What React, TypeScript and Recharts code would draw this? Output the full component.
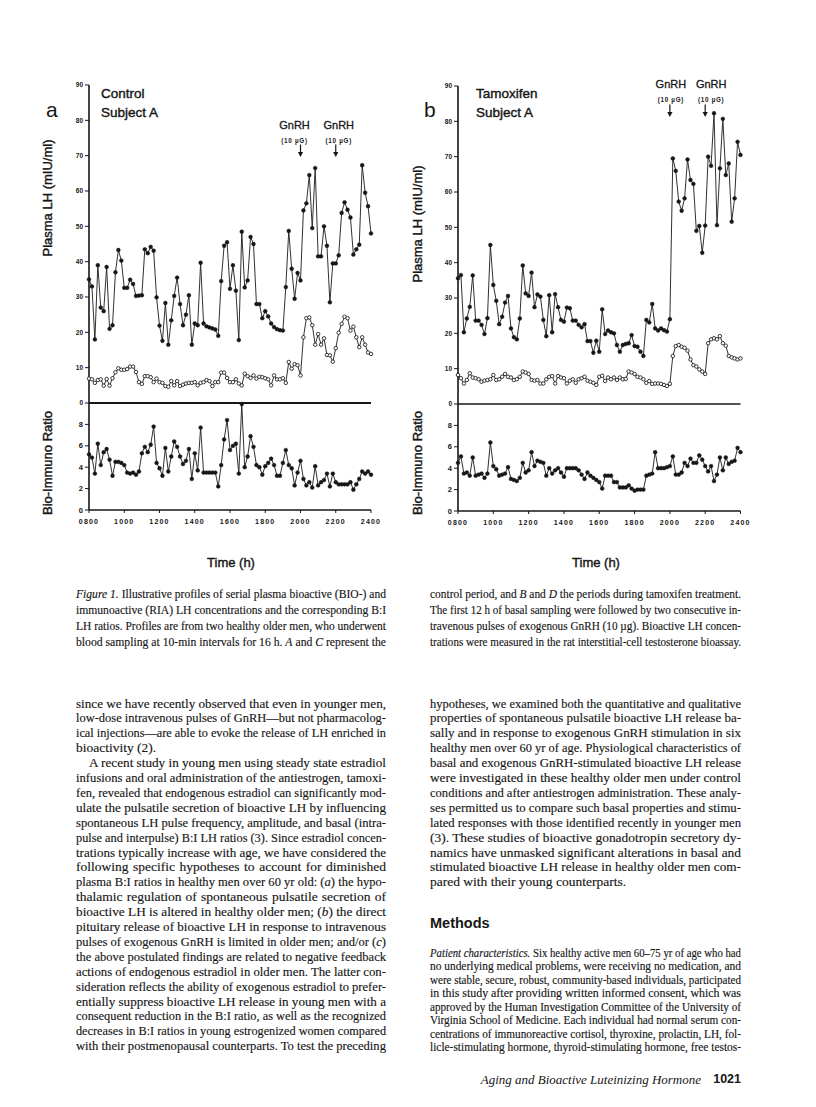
import React, { useLayoutEffect, useRef, useState } from 'react';
import { LineChart, Line, XAxis, YAxis, ReferenceLine, ReferenceDot } from 'recharts';

// ---------------- data ----------------
const timeTicks = [8, 10, 12, 14, 16, 18, 20, 22, 24];
const timeTickLabels = ['0800', '1000', '1200', '1400', '1600', '1800', '2000', '2200', '2400'];
const lhTicks = [0, 10, 20, 30, 40, 50, 60, 70, 80, 90];
const ratioTicks = [0, 2, 4, 6, 8];
const gnrhTimes = [20, 22];

// Panel a: control, subject A (10-min samples 0800-2400)
const controlBio = [
  35, 33, 18, 39, 27, 26, 38.5, 21, 22, 37,
  43.3, 40.3, 32.6, 32.6, 34.9, 33.7, 30.3, 30.4, 30.5, 43.5,
  42.4, 44.2, 43.1, 29.9, 21.9, 17.6, 28.3, 16.5, 23.4, 30.3,
  35.5, 28, 22, 25, 30.5, 16.5, 22.5, 22, 39.7, 22.5,
  21.7, 21.4, 21.1, 20.8, 19, 34.5, 44.5, 45.5, 32.3, 39,
  31.8, 17.8, 48.5, 32.7, 34.7, 47, 45, 28, 28, 24,
  26, 24.5, 22.5, 21.5, 20.9, 20.6, 20.5, 32.8, 48.7, 38,
  29.5, 36.8, 34.7, 54.5, 56.5, 64.5, 49.5, 66.5, 41.5, 41.5,
  50, 44.5, 28.5, 39.5, 39.5, 41.8, 53.8, 56.8, 54.7, 52.5,
  42, 43.5, 44.8, 67.3, 59.5, 55.7, 48,
];
const controlRia = [
  6.9, 6.7, 5.7, 6.5, 6.7, 4.9, 6.8, 4.9, 7.0, 8.7,
  9.8, 9.4, 9.4, 9.6, 10.3, 10.3, 8.8, 5.9, 5.4, 7.6,
  7.6, 7.3, 5.9, 6.9, 5.9, 5.7, 4.8, 4.6, 6.2, 5.0,
  6.2, 4.8, 5.2, 5.5, 5.7, 5.7, 5.9, 5.0, 5.7, 5.9,
  6.5, 6.2, 4.8, 5.9, 5.9, 8.6, 8.6, 7.1, 5.9, 5.9,
  6.7, 5.5, 5.0, 8.3, 7.6, 7.1, 7.8, 6.9, 7.4, 7.3,
  7.0, 6.7, 5.0, 7.8, 6.7, 6.7, 7.0, 5.7, 11.6, 9.7,
  11.0, 10.7, 7.8, 18.6, 24, 24.2, 22, 16.5, 19.5, 16.5,
  18.3, 13.6, 13.5, 11.7, 15.5, 19.9, 22.4, 24.4, 24, 20.5,
  21.6, 18.6, 15.8, 18.6, 16.5, 14.3, 13.9,
];
const controlRatio = [
  5.2, 4.9, 3.4, 6.2, 4.2, 5.4, 5.7, 4.7, 3.2, 4.5,
  4.5, 4.4, 4.2, 3.5, 3.4, 3.5, 3.3, 3.6, 5.3, 5.9,
  5.4, 6.1, 7.8, 4.4, 3.9, 3.2, 5.8, 3.6, 5.0, 6.4,
  5.9, 5.0, 4.3, 4.6, 5.7, 2.9, 5.3, 3.7, 7.7, 3.5,
  3.5, 3.5, 3.5, 3.5, 2.2, 4.2, 6.6, 8.4, 5.6, 6.0,
  6.2, 3.4, 9.9, 4.0, 5.0, 6.9, 5.9, 4.2, 4.0, 3.3,
  4.1, 4.4, 4.8, 4.2, 3.2, 3.2, 4.4, 5.6, 4.2, 3.9,
  2.3, 3.5, 4.6, 2.9, 2.3, 2.6, 2.1, 4.1, 2.3, 2.6,
  2.8, 3.4, 2.2, 3.4, 2.6, 2.4, 2.4, 2.4, 2.4, 2.6,
  1.9, 2.4, 2.9, 3.6, 3.4, 3.6, 3.3,
];

// Panel b: tamoxifen, subject A
const tamoxBio = [
  35.6, 36.5, 20.3, 24.2, 27.5, 36.4, 23.6, 23.6, 22.4, 19.8,
  24.3, 45, 33.7, 29.2, 22.6, 24.7, 28.7, 30.6, 21.4, 18.9,
  18.3, 24.2, 39.2, 31.3, 30.6, 37.2, 27.4, 31.0, 30.4, 23.8,
  19.2, 30.8, 20.3, 31.1, 27.4, 23.8, 23.3, 27.3, 27.1, 23.6,
  23.6, 22.4, 21.7, 22.6, 17.8, 17.8, 14.5, 17.9, 14.8, 26.8,
  19.8, 20.8, 20.3, 20.0, 16.7, 14.8, 16.7, 17, 17.2, 19.5,
  16.4, 16.2, 14.8, 13.6, 23.8, 23.1, 28.3, 21.4, 20.8, 21.4,
  20.9, 20.5, 24, 69.5, 66, 57.3, 54.7, 58.2, 69.2, 63.4,
  62.3, 49, 50.4, 42.8, 50.5, 70, 67.4, 82.3, 50.6, 66.7,
  80.7, 64.8, 68.1, 51.6, 58.2, 74.2, 70.5,
];
const tamoxRia = [
  8.2, 7.3, 5.8, 6.8, 8.7, 7.5, 7.3, 7.0, 6.3, 6.6,
  6.8, 7.0, 8.2, 6.8, 7.0, 7.7, 8.5, 7.7, 7.5, 6.8,
  7.0, 7.7, 9.2, 8.9, 8.5, 6.8, 6.6, 6.8, 5.8, 5.8,
  7.0, 7.7, 7.9, 5.8, 7.9, 7.5, 7.3, 5.8, 6.6, 7.0,
  6.0, 7.0, 7.3, 7.7, 6.6, 6.3, 6.0, 5.4, 7.7, 8.0,
  6.5, 7.5, 7.0, 7.5, 6.8, 7.5, 7.0, 7.1, 9.2, 8.9,
  8.5, 7.7, 7.5, 7.0, 6.0, 6.5, 5.7, 5.8, 5.8, 5.7,
  5.4, 5.1, 5.7, 13.6, 16.4, 16.7, 16.2, 15.9, 15.1, 12.6,
  11.0, 10.6, 9.8, 9.2, 8.5, 17.2, 18.3, 18.6, 18.3, 19.2,
  17.2, 16.5, 13.6, 13.2, 12.9, 12.6, 12.9,
];
const tamoxRatio = [
  4.5, 5.1, 3.5, 3.6, 3.3, 5.0, 3.3, 3.4, 3.5, 3.1,
  3.5, 6.4, 4.2, 3.9, 3.3, 3.4, 3.5, 4.1, 3.0, 2.9,
  2.8, 3.1, 4.5, 3.6, 3.8, 5.5, 4.2, 4.7, 4.6, 4.5,
  3.3, 4.0, 3.5, 3.8, 4.0, 3.6, 3.2, 4.0, 4.0, 4.0,
  4.0, 3.8, 3.4, 3.0, 3.6, 3.3, 3.1, 2.9, 2.7, 2.1,
  3.3, 3.3, 3.3, 2.7, 2.7, 2.2, 2.2, 2.2, 2.4, 2.1,
  1.9, 2.0, 2.0, 2.0, 3.3, 3.4, 3.5, 5.5, 4.0, 4.0,
  4.0, 4.1, 4.2, 5.1, 3.4, 3.4, 3.6, 4.5, 4.2, 4.9,
  4.5, 4.5, 5.2, 4.8, 4.2, 3.7, 4.2, 2.8, 3.4, 5.0,
  3.8, 5.0, 4.4, 4.6, 4.7, 5.9, 5.5,
];

// sampling clock (hours), one sample every 10 min from 0800
const sampleTimes = controlBio.map((_, i) => 8 + i / 6);

// ---------------- text ----------------
const captionLeft = [
  '_Figure 1._ Illustrative profiles of serial plasma bioactive (BIO-) and',
  'immunoactive (RIA) LH concentrations and the corresponding B:I',
  'LH ratios. Profiles are from two healthy older men, who underwent',
  'blood sampling at 10-min intervals for 16 h. _A_ and _C_ represent the',
];
const captionRight = [
  'control period, and _B_ and _D_ the periods during tamoxifen treatment.',
  'The first 12 h of basal sampling were followed by two consecutive in-',
  'travenous pulses of exogenous GnRH (10 µg). Bioactive LH concen-',
  'trations were measured in the rat interstitial-cell testosterone bioassay.',
];
const bodyLeft = [
  'since we have recently observed that even in younger men,',
  'low-dose intravenous pulses of GnRH—but not pharmacolog-',
  'ical injections—are able to evoke the release of LH enriched in',
  'bioactivity (2).',
  'A recent study in young men using steady state estradiol',
  'infusions and oral administration of the antiestrogen, tamoxi-',
  'fen, revealed that endogenous estradiol can significantly mod-',
  'ulate the pulsatile secretion of bioactive LH by influencing',
  'spontaneous LH pulse frequency, amplitude, and basal (intra-',
  'pulse and interpulse) B:I LH ratios (3). Since estradiol concen-',
  'trations typically increase with age, we have considered the',
  'following specific hypotheses to account for diminished',
  'plasma B:I ratios in healthy men over 60 yr old: (_a_) the hypo-',
  'thalamic regulation of spontaneous pulsatile secretion of',
  'bioactive LH is altered in healthy older men; (_b_) the direct',
  'pituitary release of bioactive LH in response to intravenous',
  'pulses of exogenous GnRH is limited in older men; and/or (_c_)',
  'the above postulated findings are related to negative feedback',
  'actions of endogenous estradiol in older men. The latter con-',
  'sideration reflects the ability of exogenous estradiol to prefer-',
  'entially suppress bioactive LH release in young men with a',
  'consequent reduction in the B:I ratio, as well as the recognized',
  'decreases in B:I ratios in young estrogenized women compared',
  'with their postmenopausal counterparts. To test the preceding',
];
const bodyRight = [
  'hypotheses, we examined both the quantitative and qualitative',
  'properties of spontaneous pulsatile bioactive LH release ba-',
  'sally and in response to exogenous GnRH stimulation in six',
  'healthy men over 60 yr of age. Physiological characteristics of',
  'basal and exogenous GnRH-stimulated bioactive LH release',
  'were investigated in these healthy older men under control',
  'conditions and after antiestrogen administration. These analy-',
  'ses permitted us to compare such basal properties and stimu-',
  'lated responses with those identified recently in younger men',
  '(3). These studies of bioactive gonadotropin secretory dy-',
  'namics have unmasked significant alterations in basal and',
  'stimulated bioactive LH release in healthy older men com-',
  'pared with their young counterparts.',
];
const patientLines = [
  '_Patient characteristics._ Six healthy active men 60–75 yr of age who had',
  'no underlying medical problems, were receiving no medication, and',
  'were stable, secure, robust, community-based individuals, participated',
  'in this study after providing written informed consent, which was',
  'approved by the Human Investigation Committee of the University of',
  'Virginia School of Medicine. Each individual had normal serum con-',
  'centrations of immunoreactive cortisol, thyroxine, prolactin, LH, fol-',
  'licle-stimulating hormone, thyroid-stimulating hormone, free testos-',
];

// ---------------- styles ----------------
const SANS = '"Liberation Sans", Arial, Helvetica, sans-serif';
const SERIF = '"Liberation Serif", "Times New Roman", serif';
const INK = '#161616';

function marked(s: string) {
  return s.split('_').map((seg, i) =>
    i % 2 ? <i key={i}>{seg}</i> : <React.Fragment key={i}>{seg}</React.Fragment>
  );
}

function JLine({ x, base, w, size, text, justify = true, family = SERIF }: any) {
  const ref = useRef<HTMLSpanElement>(null);
  const [adj, setAdj] = useState({ ws: 0, sx: 1 });
  useLayoutEffect(() => {
    const el = ref.current;
    if (!el) return;
    const natural = el.getBoundingClientRect().width;
    const spaces = ((el.textContent || '').match(/ /g) || []).length;
    if (natural > w) setAdj({ ws: 0, sx: w / natural });
    else if (justify && spaces > 0) setAdj({ ws: (w - natural) / spaces, sx: 1 });
  }, []);
  return (
    <div
      style={{
        position: 'absolute', left: x, top: base - 0.845 * size, whiteSpace: 'nowrap',
        fontSize: size, lineHeight: `${size}px`, fontFamily: family, color: INK,
        WebkitTextStroke: '0.15px #161616',
      }}
    >
      <span
        ref={ref}
        style={{ display: 'inline-block', wordSpacing: adj.ws, transform: `scaleX(${adj.sx})`, transformOrigin: '0 0' }}
      >
        {marked(text)}
      </span>
    </div>
  );
}

function Txt({ x, base, size, children, anchor = 'start', family = SANS, weight = 400, style = {} }: any) {
  const tx = anchor === 'middle' ? 'translateX(-50%)' : anchor === 'end' ? 'translateX(-100%)' : 'none';
  return (
    <div
      style={{
        position: 'absolute', left: x, top: base - 0.845 * size, fontSize: size, lineHeight: `${size}px`,
        fontFamily: family, fontWeight: weight, color: INK, whiteSpace: 'nowrap', transform: tx, ...style,
      }}
    >
      {children}
    </div>
  );
}

const chartLabelStyle = { WebkitTextStroke: '0.4px #161616' };

function VLabel({ cx, cy, size, children }: any) {
  return (
    <div
      style={{
        position: 'absolute', left: cx, top: cy, fontSize: size, lineHeight: `${size}px`, fontFamily: SANS,
        color: INK, whiteSpace: 'nowrap', transform: 'translate(-50%, -50%) rotate(-90deg)', ...chartLabelStyle,
      }}
    >
      {children}
    </div>
  );
}

function GnRHMark({ cx, cy, dx, g1, g2 }: any) {
  return (
    <g>
      <text x={cx + dx} y={cy - g1} textAnchor="middle" fontSize={11} fontFamily={SANS} fill={INK} stroke={INK} strokeWidth={0.3}>GnRH</text>
      <text x={cx + dx} y={cy - g2} textAnchor="middle" fontSize={6.3} fontWeight={700} letterSpacing={0.7} fontFamily={SANS} fill={INK}>(10 µG)</text>
      <line x1={cx} y1={cy - 12.5} x2={cx} y2={cy - 4} stroke={INK} strokeWidth={1.2} />
      <polygon points={`${cx - 2.6},${cy - 5} ${cx + 2.6},${cy - 5} ${cx},${cy}`} fill={INK} />
    </g>
  );
}

const yTick = { fontSize: 6.5, fontWeight: 700, fill: INK, fontFamily: SANS };
const filledDot = { r: 1.9, fill: INK, stroke: INK, strokeWidth: 0.5 };
const openDot = { r: 1.75, fill: '#fff', stroke: INK, strokeWidth: 0.85 };

function Panel({ cfg }: any) {
  const { L, R, top, zero, bottom } = cfg;
  const yW = 40;
  const mRight = 12;
  const mTop = 32;
  const upperData = sampleTimes.map((t, i) => ({ t, bio: cfg.bio[i], ria: cfg.ria[i] }));
  const lowerData = sampleTimes.map((t, i) => ({ t, ratio: cfg.ratio[i] }));
  const w = R - L + yW + mRight;
  return (
    <>
      <div style={{ position: 'absolute', left: L - yW, top: top - mTop }}>
        <LineChart width={w} height={zero - top + mTop + 4} data={upperData} margin={{ top: mTop, right: mRight, bottom: 4, left: 0 }}>
          <XAxis dataKey="t" type="number" domain={[8, 24]} ticks={timeTicks} hide height={0} />
          <YAxis
            type="number" domain={[0, 90]} ticks={lhTicks} interval={0} width={yW}
            tickSize={4} tickMargin={2} tick={yTick} tickLine={{ stroke: INK, strokeWidth: 1 }}
            axisLine={{ stroke: INK, strokeWidth: 1.6 }}
          />
          <ReferenceLine y={0} stroke={INK} strokeWidth={cfg.zeroWidth} />
          <Line type="linear" dataKey="ria" stroke="#262626" strokeWidth={0.95} dot={openDot} activeDot={false} isAnimationActive={false} />
          <Line type="linear" dataKey="bio" stroke="#262626" strokeWidth={0.95} dot={filledDot} activeDot={false} isAnimationActive={false} />
          {gnrhTimes.map((g, k) => (
            <ReferenceDot
              key={k} x={g} y={cfg.arrowLevel} r={0} ifOverflow="visible"
              shape={(p: any) => <GnRHMark cx={p.cx} cy={p.cy} dx={cfg.gnrhDx[k]} g1={cfg.g1} g2={cfg.g2} />}
            />
          ))}
        </LineChart>
      </div>
      <div style={{ position: 'absolute', left: L - yW, top: zero - 6 }}>
        <LineChart width={w} height={bottom - zero + 6 + 18 + 2} data={lowerData} margin={{ top: 6, right: mRight, bottom: 2, left: 0 }}>
          <XAxis
            dataKey="t" type="number" domain={[8, 24]} ticks={timeTicks} interval={0} height={18}
            tickSize={3} tickMargin={6}
            tickFormatter={(v: number) => timeTickLabels[timeTicks.indexOf(v)]}
            tick={{ fontSize: 7, fontWeight: 700, fill: INK, fontFamily: SANS, letterSpacing: 1.2 }}
            tickLine={{ stroke: INK, strokeWidth: 1 }}
            axisLine={{ stroke: INK, strokeWidth: 1.4 }}
          />
          <YAxis
            type="number" domain={[0, 10]} ticks={ratioTicks} interval={0} width={yW}
            tickSize={4} tickMargin={2} tick={{ ...yTick, fontSize: 7.5 }} tickLine={{ stroke: INK, strokeWidth: 1 }}
            axisLine={{ stroke: INK, strokeWidth: 1.6 }}
          />
          <Line type="linear" dataKey="ratio" stroke="#262626" strokeWidth={0.95} dot={filledDot} activeDot={false} isAnimationActive={false} />
        </LineChart>
      </div>
      <Txt x={cfg.letterX} base={117} size={21}>{cfg.letter}</Txt>
      <Txt x={cfg.titleX} base={98} size={13.5} style={chartLabelStyle}>{cfg.title}</Txt>
      <Txt x={cfg.titleX} base={117} size={13.5} style={chartLabelStyle}>Subject A</Txt>
      <VLabel cx={cfg.axisLabelX} cy={cfg.lhLabelY} size={13}>Plasma LH (mIU/ml)</VLabel>
      <VLabel cx={cfg.axisLabelX} cy={463} size={13}>Bio-Immuno Ratio</VLabel>
      <Txt x={cfg.timeLabelX} base={567} size={13} anchor="middle" style={chartLabelStyle}>Time (h)</Txt>
    </>
  );
}

const panelA = {
  L: 89, R: 371, top: 85, zero: 403, bottom: 510,
  bio: controlBio, ria: controlRia, ratio: controlRatio,
  letter: 'a', letterX: 46, title: 'Control', titleX: 101,
  axisLabelX: 47, lhLabelY: 198, timeLabelX: 231,
  arrowLevel: 69.6, gnrhDx: [-6, 3], g1: 28, g2: 14, zeroWidth: 2,
};
const panelB = {
  L: 457.5, R: 740, top: 86, zero: 404, bottom: 511,
  bio: tamoxBio, ria: tamoxRia, ratio: tamoxRatio,
  letter: 'b', letterX: 424, title: 'Tamoxifen', titleX: 476,
  axisLabelX: 417, lhLabelY: 224, timeLabelX: 596,
  arrowLevel: 81.2, gnrhDx: [1, 6], g1: 29, g2: 15, zeroWidth: 1.5,
};

export default function App() {
  const LX = 76, RX = 430, CW = 310;
  const bodyBase = 708, bodyStep = 14.9;
  return (
    <div style={{ position: 'absolute', left: 0, top: 0, width: 816, height: 1107, background: '#fff', overflow: 'hidden' }}>
      <Panel cfg={panelA} />
      <Panel cfg={panelB} />

      {captionLeft.map((s, k) => (
        <JLine key={'cl' + k} x={LX} base={599 + k * 16} w={CW} size={12.5} text={s} />
      ))}
      {captionRight.map((s, k) => (
        <JLine key={'cr' + k} x={RX} base={599 + k * 16} w={CW + 1} size={12.5} text={s} />
      ))}

      {bodyLeft.map((s, k) => (
        <JLine
          key={'bl' + k}
          x={k === 4 ? LX + 13 : LX}
          base={bodyBase + k * bodyStep}
          w={k === 4 ? CW - 13 : CW}
          size={13.5}
          text={s}
          justify={k !== 3}
        />
      ))}
      {bodyRight.map((s, k) => (
        <JLine key={'br' + k} x={RX} base={bodyBase + k * bodyStep} w={CW + 1} size={13.5} text={s} justify={k !== bodyRight.length - 1} />
      ))}
      <Txt x={RX} base={928} size={14.5} weight={700}>Methods</Txt>
      {patientLines.map((s, k) => (
        <JLine key={'pl' + k} x={RX} base={957 + k * 13.5} w={CW + 1} size={12} text={s} />
      ))}
      <Txt x={701} base={1084} size={13} anchor="end" family={SERIF}><i>Aging and Bioactive Luteinizing Hormone</i></Txt>
      <Txt x={741} base={1084} size={12.5} anchor="end" weight={700}>1021</Txt>
    </div>
  );
}
